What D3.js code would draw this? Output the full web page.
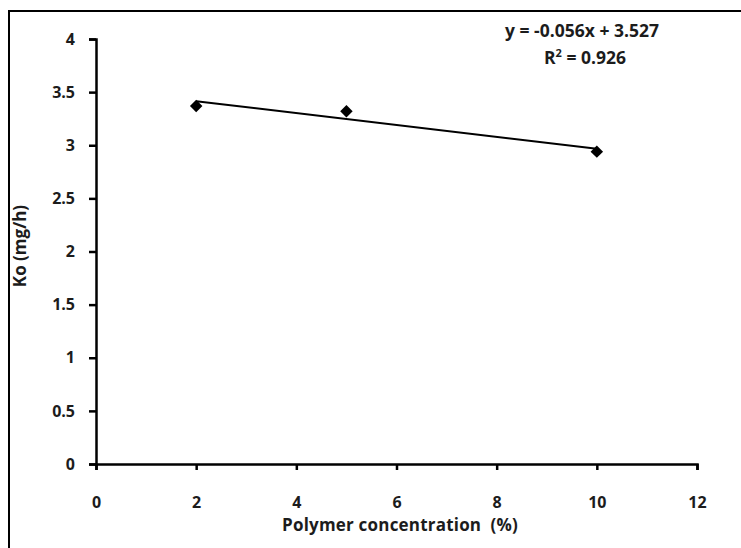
<!DOCTYPE html>
<html>
<head>
<meta charset="utf-8">
<script src="https://cdn.jsdelivr.net/npm/d3@7/dist/d3.min.js"></script>
<style>
  html, body { margin: 0; padding: 0; background: #fff; }
  svg { display: block; }
  text { font-family: "Open Sans", "Noto Sans", Arial, sans-serif; font-weight: bold; fill: #1c1c1c; }
</style>
</head>
<body>
<svg id="chart" width="741" height="548"></svg>
<script>
// Measured release rate vs polymer concentration
const concentration = [2, 5, 10];
const releaseRate = [3.37, 3.32, 2.94];

// Linear trendline coefficients and fit quality
const slope = -0.056;
const intercept = 3.527;
const rSquared = 0.926;

const xTicks = [0, 2, 4, 6, 8, 10, 12];
const yTicks = [0, 0.5, 1, 1.5, 2, 2.5, 3, 3.5, 4];

const svg = d3.select("#chart");

// Outer frame (runs past the right and bottom edges)
svg.append("rect")
  .attr("x", 9).attr("y", 11)
  .attr("width", 760).attr("height", 560)
  .attr("fill", "none").attr("stroke", "#000").attr("stroke-width", 2);

const x = d3.scaleLinear().domain([0, 12]).range([96, 697]);
const y = d3.scaleLinear().domain([0, 4]).range([464, 39]);

const xAxis = svg.append("g")
  .attr("transform", `translate(0,${y(0)})`)
  .call(d3.axisBottom(x).tickValues(xTicks).tickFormat(d3.format("d")).tickSize(6).tickPadding(27));
const yAxis = svg.append("g")
  .attr("transform", `translate(${x(0)},0)`)
  .call(d3.axisLeft(y).tickValues(yTicks).tickFormat(d => String(d)).tickSize(7).tickPadding(14));

[xAxis, yAxis].forEach(g => {
  g.select(".domain").attr("stroke", "#000").attr("stroke-width", 2.5);
  g.selectAll(".tick line").attr("stroke", "#000").attr("stroke-width", 2.5);
  g.selectAll(".tick text").attr("font-size", 16).attr("fill", "#1c1c1c");
});

// Trendline across the data range
const xs = d3.extent(concentration);
svg.append("line")
  .attr("x1", x(xs[0])).attr("y1", y(slope * xs[0] + intercept))
  .attr("x2", x(xs[1])).attr("y2", y(slope * xs[1] + intercept))
  .attr("stroke", "#000").attr("stroke-width", 2);

// Data markers
svg.append("g").selectAll("path")
  .data(concentration.map((c, i) => [c, releaseRate[i]]))
  .join("path")
  .attr("transform", d => `translate(${x(d[0])},${y(d[1])}) rotate(45)`)
  .attr("d", d3.symbol(d3.symbolSquare, 78))
  .attr("fill", "#000");

// Axis titles
svg.append("text")
  .attr("x", 400).attr("y", 531)
  .attr("text-anchor", "middle").attr("font-size", 17).attr("letter-spacing", 0.2)
  .text("Polymer concentration\u00A0\u00A0(%)");
svg.append("text")
  .attr("transform", "translate(26,246) rotate(-90)")
  .attr("text-anchor", "middle").attr("font-size", 17)
  .text("Ko (mg/h)");

// Trendline equation
svg.append("text")
  .attr("x", 582).attr("y", 37)
  .attr("text-anchor", "middle").attr("font-size", 17.5).attr("font-weight", 600)
  .text(`y = ${slope}x + ${intercept}`);
const r2 = svg.append("text")
  .attr("x", 585).attr("y", 64)
  .attr("text-anchor", "middle").attr("font-size", 17.5).attr("font-weight", 600);
r2.append("tspan").text("R");
r2.append("tspan").attr("dy", -7).attr("font-size", 11).text("2");
r2.append("tspan").attr("dy", 7).text(` = ${rSquared}`);
</script>
</body>
</html>
